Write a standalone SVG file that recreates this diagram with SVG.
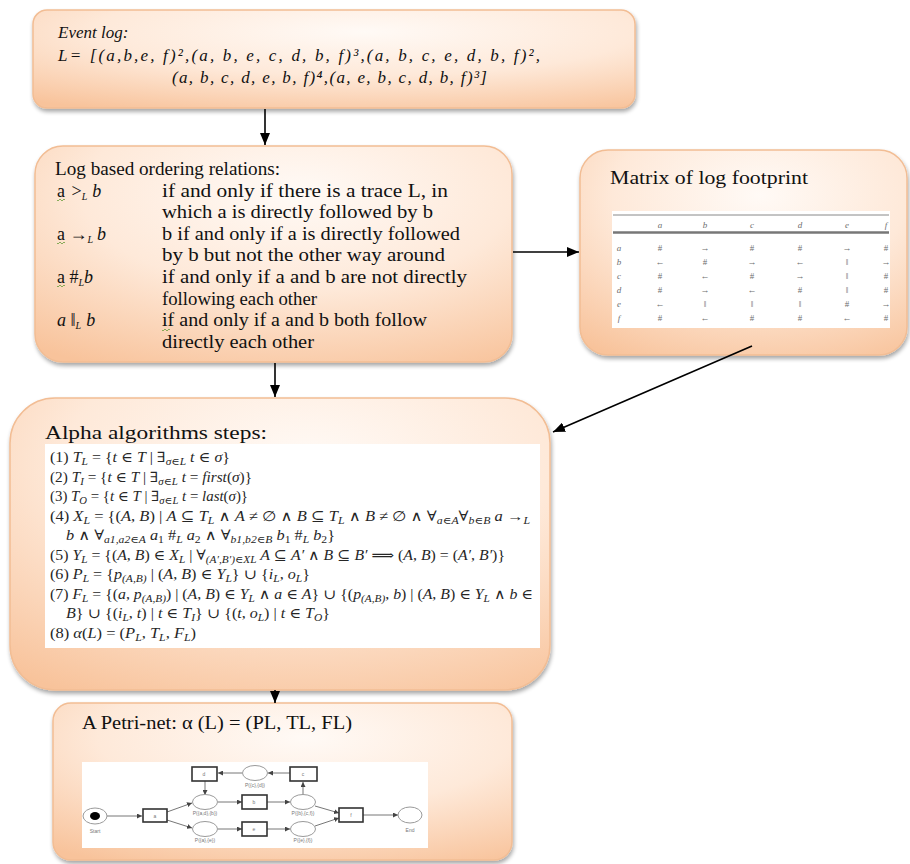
<svg xmlns="http://www.w3.org/2000/svg" width="910" height="864" viewBox="0 0 910 864">
  <defs>
    <radialGradient id="peach" cx="0.55" cy="0.22" r="0.9">
      <stop offset="0" stop-color="#fffaf6"/>
      <stop offset="0.5" stop-color="#fee9d9"/>
      <stop offset="1" stop-color="#f8c39b"/>
    </radialGradient>
    <filter id="shadow" x="-5%" y="-5%" width="110%" height="115%">
      <feGaussianBlur in="SourceAlpha" stdDeviation="2"/>
      <feOffset dx="1" dy="3" result="o"/>
      <feComponentTransfer><feFuncA type="linear" slope="0.35"/></feComponentTransfer>
      <feMerge><feMergeNode/><feMergeNode in="SourceGraphic"/></feMerge>
    </filter>
    <marker id="arrow" viewBox="0 0 12 10" refX="12" refY="5" markerWidth="12" markerHeight="10" markerUnits="userSpaceOnUse" orient="auto">
      <path d="M0,0 L12,5 L0,10 z" fill="#000"/>
    </marker>
    <marker id="tip" viewBox="0 0 6 6" refX="6" refY="3" markerWidth="5" markerHeight="5" markerUnits="userSpaceOnUse" orient="auto">
      <path d="M0,0 L6,3 L0,6 z" fill="#444"/>
    </marker>
  </defs>
  <style>
    .box { fill: url(#peach); stroke: #f2bd94; stroke-width: 1.5; filter: url(#shadow); }
    .serif { font-family: "Liberation Serif", "DejaVu Serif", serif; fill: #111; }
    .it { font-style: italic; }
    .rel { font-size: 18px; }
    .f { font-size: 14px; fill: #262626; }
    .sub { font-size: 10px; }
    .wire { stroke: #000; stroke-width: 1.6; fill: none; }
    .mx { font-family: "Liberation Serif", serif; font-size: 9px; fill: #6e6e6e; text-anchor: middle; }
    .pn { stroke: #666; stroke-width: 0.9; fill: none; }
    .pl { fill: #fff; stroke: #9a9a9a; stroke-width: 1; }
    .tr { fill: #fff; stroke: #333; stroke-width: 1.6; }
    .pt { font-family: "Liberation Sans", sans-serif; font-size: 5px; fill: #777; text-anchor: middle; }
    .squig { stroke: #6b9e3c; stroke-width: 0.8; fill: none; }
  </style>

  <!-- Event log -->
  <g id="event-log">
    <rect class="box" x="33" y="10" width="602" height="98" rx="14"/>
    <text class="serif it" x="58" y="38" font-size="17">Event log:</text>
    <text class="serif it" x="58" y="61" font-size="17" textLength="482" lengthAdjust="spacing">L= [(a,b,e, f)²,(a, b, e, c, d, b, f)³,(a, b, c, e, d, b, f)²,</text>
    <text class="serif it" x="172" y="83" font-size="17" textLength="315" lengthAdjust="spacing">(a, b, c, d, e, b, f)⁴,(a, e, b, c, d, b, f)³]</text>
  </g>

  <!-- Ordering relations -->
  <g id="relations">
    <rect class="box" x="35" y="146" width="477" height="216" rx="28"/>
    <g class="serif rel">
      <text x="55" y="175" textLength="225" lengthAdjust="spacingAndGlyphs">Log based ordering relations:</text>

      <text x="57" y="196.6">a <tspan dx="2">&gt;</tspan><tspan class="it sub" dy="3">L</tspan><tspan class="it" dx="5" dy="-3">b</tspan></text>
      <text x="162" y="196.6" textLength="286" lengthAdjust="spacingAndGlyphs">if and only if there is a trace L, in</text>
      <text x="162" y="218.2" textLength="271" lengthAdjust="spacingAndGlyphs">which a is directly followed by b</text>

      <text x="57" y="239.8">a <tspan>→</tspan><tspan class="it sub" dy="3">L</tspan><tspan class="it" dx="4" dy="-3">b</tspan></text>
      <text x="162" y="239.8" textLength="298" lengthAdjust="spacingAndGlyphs">b if and only if a is directly followed</text>
      <text x="162" y="261.4" textLength="283" lengthAdjust="spacingAndGlyphs">by b but not the other way around</text>

      <text x="57" y="283">a <tspan>#</tspan><tspan class="it sub" dy="3">L</tspan><tspan class="it" dy="-3">b</tspan></text>
      <text x="162" y="283" textLength="305" lengthAdjust="spacingAndGlyphs">if and only if a and b are not directly</text>
      <text x="162" y="304.6" textLength="155" lengthAdjust="spacingAndGlyphs">following each other</text>

      <text x="57" y="326.2"><tspan class="it">a</tspan> <tspan>‖</tspan><tspan class="it sub" dy="3">L</tspan><tspan class="it" dx="5" dy="-3">b</tspan></text>
      <text x="162" y="326.2" textLength="265" lengthAdjust="spacingAndGlyphs">if and only if a and b both follow</text>
      <text x="162" y="347.8" textLength="152" lengthAdjust="spacingAndGlyphs">directly each other</text>
    </g>
    <path class="squig" d="M57,200 q1,2 2,0 t2,0 t2,0 t2,0"/>
    <path class="squig" d="M57,243 q1,2 2,0 t2,0 t2,0 t2,0"/>
    <path class="squig" d="M57,286 q1,2 2,0 t2,0 t2,0 t2,0"/>
    <path class="squig" d="M162,330 q1,2 2,0 t2,0 t2,0 t2,0"/>
  </g>

  <!-- Footprint matrix -->
  <g id="footprint">
    <rect class="box" x="580" y="150" width="327" height="205" rx="28"/>
    <text class="serif" x="610" y="184" font-size="19" textLength="198" lengthAdjust="spacingAndGlyphs">Matrix of log footprint</text>
    <rect x="612" y="211" width="278" height="117" fill="#fff"/>
    <line x1="613" y1="215" x2="889" y2="215" stroke="#888" stroke-width="1"/>
    <line x1="613" y1="232.5" x2="889" y2="232.5" stroke="#777" stroke-width="2.5"/>
    <g class="mx">
      <text class="it" x="660" y="228">a</text><text class="it" x="705" y="228">b</text><text class="it" x="752" y="228">c</text><text class="it" x="800" y="228">d</text><text class="it" x="847" y="228">e</text><text class="it" x="886" y="228">f</text>

      <text class="it" x="619" y="251">a</text><text x="660" y="251">#</text><text x="705" y="251">→</text><text x="752" y="251">#</text><text x="800" y="251">#</text><text x="847" y="251">→</text><text x="886" y="251">#</text>
      <text class="it" x="619" y="265">b</text><text x="660" y="265">←</text><text x="705" y="265">#</text><text x="752" y="265">→</text><text x="800" y="265">←</text><text x="847" y="265">‖</text><text x="886" y="265">→</text>
      <text class="it" x="619" y="279">c</text><text x="660" y="279">#</text><text x="705" y="279">←</text><text x="752" y="279">#</text><text x="800" y="279">→</text><text x="847" y="279">‖</text><text x="886" y="279">#</text>
      <text class="it" x="619" y="293">d</text><text x="660" y="293">#</text><text x="705" y="293">→</text><text x="752" y="293">←</text><text x="800" y="293">#</text><text x="847" y="293">‖</text><text x="886" y="293">#</text>
      <text class="it" x="619" y="307">e</text><text x="660" y="307">←</text><text x="705" y="307">‖</text><text x="752" y="307">‖</text><text x="800" y="307">‖</text><text x="847" y="307">#</text><text x="886" y="307">→</text>
      <text class="it" x="619" y="321">f</text><text x="660" y="321">#</text><text x="705" y="321">←</text><text x="752" y="321">#</text><text x="800" y="321">#</text><text x="847" y="321">←</text><text x="886" y="321">#</text>
    </g>
  </g>

  <!-- Alpha algorithm -->
  <g id="alpha">
    <rect class="box" x="10" y="398" width="540" height="292" rx="45"/>
    <text class="serif" x="45" y="439" font-size="19" textLength="222" lengthAdjust="spacingAndGlyphs">Alpha algorithms steps:</text>
    <rect x="45" y="444" width="495" height="204" fill="#fff"/>
    <g class="serif f">
      <text x="50" y="462" textLength="180" lengthAdjust="spacingAndGlyphs">(1) <tspan class="it">T</tspan><tspan class="it sub" dy="3">L</tspan><tspan dy="-3"> = {</tspan><tspan class="it">t</tspan> ∈ <tspan class="it">T</tspan> | ∃<tspan class="it sub" dy="3">σ∈L</tspan><tspan class="it" dy="-3"> t</tspan> ∈ <tspan class="it">σ</tspan>}</text>
      <text x="50" y="481.5" textLength="202" lengthAdjust="spacingAndGlyphs">(2) <tspan class="it">T</tspan><tspan class="it sub" dy="3">I</tspan><tspan dy="-3"> = {</tspan><tspan class="it">t</tspan> ∈ <tspan class="it">T</tspan> | ∃<tspan class="it sub" dy="3">σ∈L</tspan><tspan class="it" dy="-3"> t</tspan> = <tspan class="it">first</tspan>(<tspan class="it">σ</tspan>)}</text>
      <text x="50" y="501" textLength="198" lengthAdjust="spacingAndGlyphs">(3) <tspan class="it">T</tspan><tspan class="it sub" dy="3">O</tspan><tspan dy="-3"> = {</tspan><tspan class="it">t</tspan> ∈ <tspan class="it">T</tspan> | ∃<tspan class="it sub" dy="3">σ∈L</tspan><tspan class="it" dy="-3"> t</tspan> = <tspan class="it">last</tspan>(<tspan class="it">σ</tspan>)}</text>
      <text x="50" y="520.5" textLength="480" lengthAdjust="spacingAndGlyphs">(4) <tspan class="it">X</tspan><tspan class="it sub" dy="3">L</tspan><tspan dy="-3"> = {(</tspan><tspan class="it">A</tspan>, <tspan class="it">B</tspan>) | <tspan class="it">A</tspan> ⊆ <tspan class="it">T</tspan><tspan class="it sub" dy="3">L</tspan><tspan dy="-3"> ∧ </tspan><tspan class="it">A</tspan> ≠ ∅ ∧ <tspan class="it">B</tspan> ⊆ <tspan class="it">T</tspan><tspan class="it sub" dy="3">L</tspan><tspan dy="-3"> ∧ </tspan><tspan class="it">B</tspan> ≠ ∅ ∧ ∀<tspan class="it sub" dy="3">a∈A</tspan><tspan dy="-3">∀</tspan><tspan class="it sub" dy="3">b∈B</tspan><tspan class="it" dy="-3"> a</tspan> →<tspan class="it sub" dy="3">L</tspan></text>
      <text x="66" y="540" textLength="269" lengthAdjust="spacingAndGlyphs"><tspan class="it">b</tspan> ∧ ∀<tspan class="it sub" dy="3">a1,a2∈A</tspan><tspan class="it" dy="-3"> a</tspan><tspan class="sub" dy="3">1</tspan><tspan dy="-3"> #</tspan><tspan class="it sub" dy="3">L</tspan><tspan class="it" dy="-3"> a</tspan><tspan class="sub" dy="3">2</tspan><tspan dy="-3"> ∧ ∀</tspan><tspan class="it sub" dy="3">b1,b2∈B</tspan><tspan class="it" dy="-3"> b</tspan><tspan class="sub" dy="3">1</tspan><tspan dy="-3"> #</tspan><tspan class="it sub" dy="3">L</tspan><tspan class="it" dy="-3"> b</tspan><tspan class="sub" dy="3">2</tspan><tspan dy="-3">}</tspan></text>
      <text x="50" y="559.5" textLength="455" lengthAdjust="spacingAndGlyphs">(5) <tspan class="it">Y</tspan><tspan class="it sub" dy="3">L</tspan><tspan dy="-3"> = {(</tspan><tspan class="it">A</tspan>, <tspan class="it">B</tspan>) ∈ <tspan class="it">X</tspan><tspan class="it sub" dy="3">L</tspan><tspan dy="-3"> | ∀</tspan><tspan class="it sub" dy="3">(A′,B′)∈XL</tspan><tspan class="it" dy="-3"> A</tspan> ⊆ <tspan class="it">A′</tspan> ∧ <tspan class="it">B</tspan> ⊆ <tspan class="it">B′</tspan> ⟹ (<tspan class="it">A</tspan>, <tspan class="it">B</tspan>) = (<tspan class="it">A′</tspan>, <tspan class="it">B′</tspan>)}</text>
      <text x="50" y="579" textLength="260" lengthAdjust="spacingAndGlyphs">(6) <tspan class="it">P</tspan><tspan class="it sub" dy="3">L</tspan><tspan dy="-3"> = {</tspan><tspan class="it">p</tspan><tspan class="it sub" dy="3">(A,B)</tspan><tspan dy="-3"> | (</tspan><tspan class="it">A</tspan>, <tspan class="it">B</tspan>) ∈ <tspan class="it">Y</tspan><tspan class="it sub" dy="3">L</tspan><tspan dy="-3">} ∪ {</tspan><tspan class="it">i</tspan><tspan class="it sub" dy="3">L</tspan><tspan dy="-3">, </tspan><tspan class="it">o</tspan><tspan class="it sub" dy="3">L</tspan><tspan dy="-3">}</tspan></text>
      <text x="50" y="598.5" textLength="483" lengthAdjust="spacingAndGlyphs">(7) <tspan class="it">F</tspan><tspan class="it sub" dy="3">L</tspan><tspan dy="-3"> = {(</tspan><tspan class="it">a</tspan>, <tspan class="it">p</tspan><tspan class="it sub" dy="3">(A,B)</tspan><tspan dy="-3">) | (</tspan><tspan class="it">A</tspan>, <tspan class="it">B</tspan>) ∈ <tspan class="it">Y</tspan><tspan class="it sub" dy="3">L</tspan><tspan dy="-3"> ∧ </tspan><tspan class="it">a</tspan> ∈ <tspan class="it">A</tspan>} ∪ {(<tspan class="it">p</tspan><tspan class="it sub" dy="3">(A,B)</tspan><tspan dy="-3">, </tspan><tspan class="it">b</tspan>) | (<tspan class="it">A</tspan>, <tspan class="it">B</tspan>) ∈ <tspan class="it">Y</tspan><tspan class="it sub" dy="3">L</tspan><tspan dy="-3"> ∧ </tspan><tspan class="it">b</tspan> ∈</text>
      <text x="66" y="618" textLength="264" lengthAdjust="spacingAndGlyphs"><tspan class="it">B</tspan>} ∪ {(<tspan class="it">i</tspan><tspan class="it sub" dy="3">L</tspan><tspan dy="-3">, </tspan><tspan class="it">t</tspan>) | <tspan class="it">t</tspan> ∈ <tspan class="it">T</tspan><tspan class="it sub" dy="3">I</tspan><tspan dy="-3">} ∪ {(</tspan><tspan class="it">t</tspan>, <tspan class="it">o</tspan><tspan class="it sub" dy="3">L</tspan><tspan dy="-3">) | </tspan><tspan class="it">t</tspan> ∈ <tspan class="it">T</tspan><tspan class="it sub" dy="3">O</tspan><tspan dy="-3">}</tspan></text>
      <text x="50" y="637.5" textLength="146" lengthAdjust="spacingAndGlyphs">(8) <tspan class="it">α</tspan>(<tspan class="it">L</tspan>) = (<tspan class="it">P</tspan><tspan class="it sub" dy="3">L</tspan><tspan dy="-3">, </tspan><tspan class="it">T</tspan><tspan class="it sub" dy="3">L</tspan><tspan dy="-3">, </tspan><tspan class="it">F</tspan><tspan class="it sub" dy="3">L</tspan><tspan dy="-3">)</tspan></text>
    </g>
  </g>

  <!-- Petri net -->
  <g id="petri-net">
    <rect class="box" x="53" y="703" width="459" height="157" rx="18"/>
    <text class="serif" x="82" y="729" font-size="18" textLength="270" lengthAdjust="spacingAndGlyphs">A Petri-net:  α (L) = (PL, TL, FL)</text>
    <rect x="82" y="762" width="346" height="86" fill="#fff"/>
    <g class="pn" marker-end="url(#tip)">
      <line x1="107" y1="816" x2="142" y2="816"/>
      <line x1="167" y1="812" x2="192" y2="803"/>
      <line x1="167" y1="820" x2="192" y2="828"/>
      <line x1="205" y1="781" x2="205" y2="795"/>
      <line x1="290" y1="773" x2="268" y2="773"/>
      <line x1="242" y1="773" x2="218" y2="773"/>
      <line x1="218" y1="802" x2="242" y2="802"/>
      <line x1="267" y1="802" x2="290" y2="802"/>
      <line x1="303" y1="795" x2="303" y2="782"/>
      <line x1="218" y1="829" x2="242" y2="829"/>
      <line x1="267" y1="829" x2="290" y2="829"/>
      <line x1="315" y1="806" x2="339" y2="813"/>
      <line x1="315" y1="826" x2="339" y2="818"/>
      <line x1="363" y1="815" x2="398" y2="815"/>
    </g>
    <ellipse class="pl" cx="95" cy="816" rx="12" ry="8"/>
    <ellipse cx="95" cy="816" rx="5" ry="4" fill="#000"/>
    <ellipse class="pl" cx="205" cy="802" rx="12.5" ry="7.5"/>
    <ellipse class="pl" cx="205" cy="829" rx="12.5" ry="7.5"/>
    <ellipse class="pl" cx="255" cy="773" rx="12.5" ry="7.5"/>
    <ellipse class="pl" cx="303" cy="802" rx="12.5" ry="7.5"/>
    <ellipse class="pl" cx="303" cy="829" rx="12.5" ry="7.5"/>
    <ellipse class="pl" cx="410" cy="815" rx="12" ry="8"/>
    <rect class="tr" x="143" y="809" width="24" height="13"/>
    <rect class="tr" x="192" y="767" width="25" height="14"/>
    <rect class="tr" x="290" y="767" width="27" height="14"/>
    <rect class="tr" x="242" y="795" width="25" height="14"/>
    <rect class="tr" x="242" y="822" width="25" height="14"/>
    <rect class="tr" x="339" y="808" width="24" height="14"/>
    <g class="pt">
      <text x="155" y="818">a</text><text x="204" y="776">d</text><text x="303" y="776">c</text>
      <text x="254" y="804">b</text><text x="254" y="831">e</text><text x="351" y="817">f</text>
      <text x="95" y="833">Start</text><text x="410" y="832">End</text>
      <text x="205" y="815">P({a,d},{b})</text><text x="205" y="842">P({a},{e})</text>
      <text x="255" y="787">P({c},{d})</text><text x="303" y="815">P({b},{c,f})</text>
      <text x="303" y="842">P({e},{f})</text>
    </g>
  </g>

  <!-- Connectors -->
  <g id="connectors">
    <line class="wire" x1="265" y1="109" x2="265" y2="145" marker-end="url(#arrow)"/>
    <line class="wire" x1="513" y1="252" x2="579" y2="252" marker-end="url(#arrow)"/>
    <line class="wire" x1="752" y1="346" x2="553" y2="432" marker-end="url(#arrow)"/>
    <line class="wire" x1="275" y1="363" x2="275" y2="397" marker-end="url(#arrow)"/>
    <line class="wire" x1="275" y1="690" x2="275" y2="703" marker-end="url(#arrow)"/>
  </g>
</svg>
